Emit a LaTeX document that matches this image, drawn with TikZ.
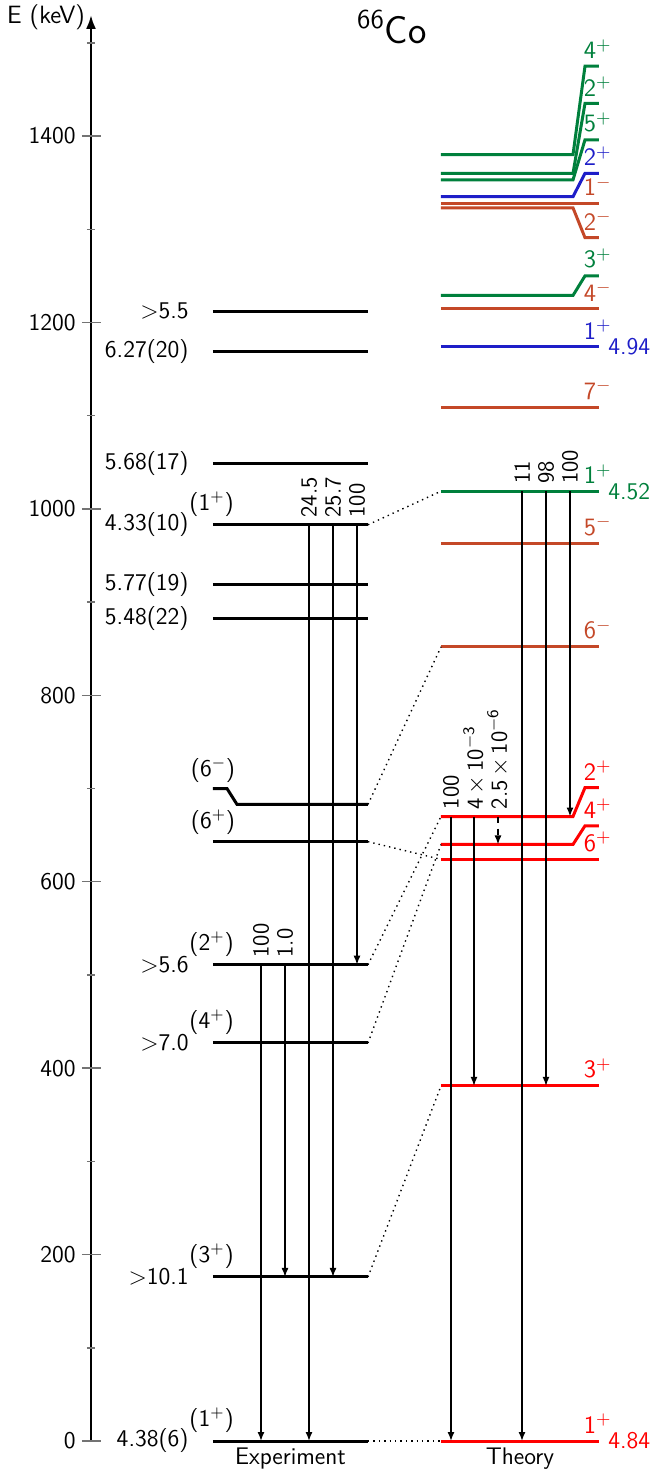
\documentclass[tikz,border=0pt]{standalone}
\usepackage{tikz}
\usetikzlibrary{arrows.meta}
\renewcommand{\familydefault}{\sfdefault}
\definecolor{thred}{RGB}{255,0,0}
\definecolor{thgreen}{RGB}{0,128,60}
\definecolor{thbrown}{RGB}{196,72,40}
\definecolor{thblue}{RGB}{30,30,200}
\tikzset{
 level/.style={line width=1.5pt},
 trans/.style={line width=.7pt,-{Latex[length=4.5pt,width=3.5pt]}},
 link/.style={dotted,line width=.7pt},
 intens/.style={rotate=90,anchor=west,font=\fontsize{11.5}{13}\selectfont},
 spinT/.style={anchor=south east,inner sep=0pt},
 spinE/.style={anchor=south west,inner sep=0pt},
 valE/.style={anchor=east,inner sep=0pt},
 tick/.style={black!55,line width=.75pt}
}

\begin{document}
\begin{tikzpicture}[x=.5pt,y=.46605pt,
 every node/.style={font=\fontsize{12}{14}\selectfont}]
 \useasboundingbox (0,-35.4) rectangle (651,1546);

 % energy axis
 \draw[line width=1.3pt,-{Latex[length=7pt,width=5pt]}] (91,0) -- (91,1530);
 \foreach \E in {0,200,...,1400}{
  \draw[tick] (82,\E) -- (101,\E);
  \node[valE] (tk\E) at (76,\E) {\E};
 }
 \foreach \E in {100,300,...,1500}
  \draw[tick] (87,\E) -- (95,\E);
 \node[font=\fontsize{12.5}{14}\selectfont] (Elab) at (46,1528) {E (keV)};
 \node[font=\fontsize{19.5}{22}\selectfont] (title) at (392,1517)
  {\textsuperscript{66}Co};

 % experimental levels
 \foreach \n/\E/\v in {eG/0/4.38(6), e3/176/$>$10.1, e4/427/$>$7.0,
   e2/511/$>$5.6, e1/983/4.33(10), eA/882/5.48(22), eB/919/5.77(19),
   eC/1049/5.68(17), eD/1169/6.27(20), eF/1212/$>$5.5}{
  \draw[level] (213,\E) coordinate (L\n) -- (368,\E) coordinate (R\n);
  \node[valE] (v\n) at (189,\E) {\v};
 }
 \foreach \n/\J in {eG/1, e3/3, e4/4, e2/2, e1/1}
  \node[spinE] (j\n) at ([yshift=4pt]v\n.east) {(\J$^+$)};
 \draw[level] (213,643) coordinate (Le6p) -- (368,643) coordinate (Re6p);
 \draw[level] (213,700) coordinate (Le6m) -- (227,700) -- (237,683)
  -- (368,683) coordinate (Re6m);
 \node[anchor=south,inner sep=0pt] (je6p) at ([yshift=3.5pt]Le6p) {(6$^+$)};
 \node[anchor=south,inner sep=0pt] (je6m) at ([yshift=3pt]Le6m) {(6$^-$)};
 \node (expt) at (290.5,-19) {Experiment};

 % shell-model levels, kinked where labels would collide
 \foreach \n/\c/\E/\K/\J in {tG/thred/0/0/1$^+$, t3/thred/381/381/3$^+$,
   t6/thred/624/624/6$^+$, t4/thred/640/660/4$^+$, t2/thred/670/701/2$^+$,
   t6m/thbrown/852/852/6$^-$, t5m/thbrown/963/963/5$^-$,
   t1/thgreen/1019/1019/1$^+$, t7m/thbrown/1109/1109/7$^-$,
   t1b/thblue/1174/1174/1$^+$, t4m/thbrown/1215/1215/4$^-$,
   t3g/thgreen/1229/1250/3$^+$, t2m/thbrown/1323/1291/2$^-$,
   t1m/thbrown/1328/1328/1$^-$, t2b/thblue/1335/1360/2$^+$,
   t5g/thgreen/1353/1396/5$^+$, t2g/thgreen/1360/1435/2$^+$,
   t4g/thgreen/1380/1475/4$^+$}{
  \draw[level,\c] (441,\E) coordinate (L\n) -- (573,\E) -- (585,\K)
   -- (599,\K) coordinate (R\n);
  \node[spinT,text=\c,font=\fontsize{12.5}{14}\selectfont] (j\n)
   at ([xshift=6.5pt,yshift=3.5pt]R\n) {\J};
 }
 \node[valE,anchor=west,text=thred] (vtG) at ([xshift=4.5pt]RtG) {4.84};
 \node[valE,anchor=west,text=thgreen] (vt1) at ([xshift=4.5pt]Rt1) {4.52};
 \node[valE,anchor=west,text=thblue] (vt1b) at ([xshift=4.5pt]Rt1b) {4.94};
 \node (theo) at (520,-19) {Theory};

 % correspondence between experiment and theory
 \foreach \a/\b in {eG/tG, e3/t3, e4/t4, e2/t2, e6p/t6, e6m/t6m, e1/t1}
  \draw[link] (R\a) -- (L\b);

 % gamma transitions with branching
 \foreach \x/\a/\b/\I in {309/e1/eG/24.5, 333/e1/e3/25.7, 357/e1/e2/100,
   261/e2/eG/100, 285/e2/e3/1.0, 522/t1/tG/11, 546/t1/t3/98,
   570/t1/t2/100, 451/t2/tG/100}
  \draw[trans] (\x,0 |- L\a) -- (\x,0 |- L\b) node[intens,at start] {\I};
 \draw[trans] (474,0 |- Lt2) -- (474,0 |- Lt3)
  node[intens,at start] {4\,$\times$\,10\textsuperscript{$-$3}};
 \draw[trans,dashed] (498,0 |- Lt2) -- (498,0 |- Lt4)
  node[intens,at start] {2.5\,$\times$\,10\textsuperscript{$-$6}};
\end{tikzpicture}
\end{document}
